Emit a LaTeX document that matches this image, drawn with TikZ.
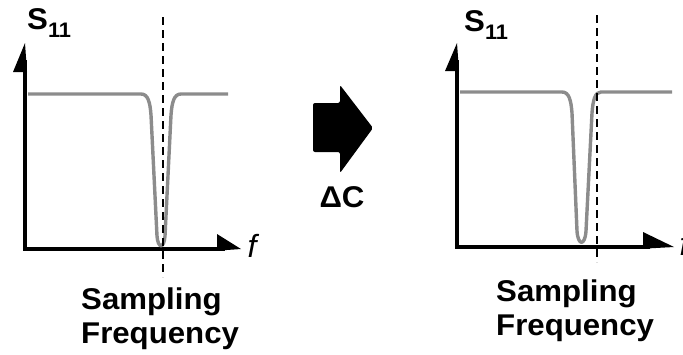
\documentclass[tikz,border=0pt]{standalone}
\usepackage{fontspec}
\setmainfont{Liberation Sans}
\newfontfamily\lblfont{Liberation Sans}[FakeStretch=1.04]
\definecolor{curvegray}{HTML}{8C8C8C}
\begin{document}
\begin{tikzpicture}[x=1pt, y=-1pt,
  axis/.style={line width=3.4pt, line join=miter},
  trace/.style={line width=3.4pt, color=curvegray, line join=round},
  marker/.style={line width=2.2pt, dash pattern=on 8pt off 5pt},
  lbl/.style={font=\fontsize{30}{34}\lblfont\bfseries, inner sep=0pt}]
  \useasboundingbox (0,0) rectangle (683,354);
  % left plot
  \coordinate (oL) at (25,249);
  \draw[axis] (25,60) -- (oL) -- (225,249);
  \fill (25,43) -- (13,72) -- (27,72) -- cycle;
  \fill (217,234) -- (241,249) -- (217,250.7) -- cycle;
  \draw[trace] (28,94) -- (141,94) .. controls (148,94) and (150,102) .. (151,115)
    -- (157,236) .. controls (158,249) and (164,249) .. (165,236)
    -- (171,115) .. controls (172,102) and (174,94) .. (181,94) -- (228,94);
  \draw[marker] (163,17) -- (163,277);
  \node[lbl, anchor=base west] (sL) at (27,29) {S\raisebox{-8pt}{\fontsize{21}{21}\selectfont 11}};
  \node[font=\fontsize{32}{32}\selectfont\itshape, inner sep=0pt] (fL) at (252,246) {f};
  \node[lbl, anchor=base west] (sampL) at (81,309) {Sampling};
  \node[lbl, anchor=base west] (freqL) at (81,343) {Frequency};
  % change arrow
  \fill[rounded corners=2pt] (313,103) -- (340,103) -- (340,85) -- (373,128)
    -- (340,173) -- (340,152) -- (313,152) -- cycle;
  \node[lbl] (dC) at (342,197) {ΔC};
  % right plot
  \coordinate (oR) at (457,247);
  \draw[axis] (457,60) -- (oR) -- (650,247);
  \fill (457,43) -- (445,71) -- (459,71) -- cycle;
  \fill (643,232) -- (674,247) -- (643,248.7) -- cycle;
  \draw[trace] (460,92) -- (562,92) .. controls (569,92) and (571,100) .. (572,113)
    -- (577,231) .. controls (578,246) and (585,246) .. (586,231)
    -- (592,113) .. controls (593,100) and (595,92) .. (601,92) -- (672,92);
  \draw[marker] (597,15) -- (597,262);
  \node[lbl, anchor=base west] (sR) at (464,31) {S\raisebox{-8pt}{\fontsize{21}{21}\selectfont 11}};
  \node[font=\fontsize{32}{32}\selectfont\itshape, inner sep=0pt] (fR) at (684,244) {f};
  \node[lbl, anchor=base west] (sampR) at (496,301) {Sampling};
  \node[lbl, anchor=base west] (freqR) at (496,335) {Frequency};
\end{tikzpicture}
\end{document}
